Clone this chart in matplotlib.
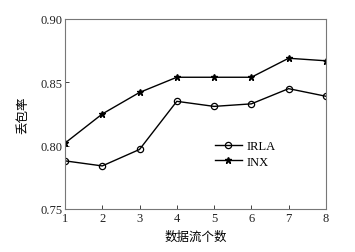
import matplotlib
matplotlib.use("Agg")
import matplotlib.pyplot as plt

x = [1, 2, 3, 4, 5, 6, 7, 8]
irla = [0.788, 0.784, 0.797, 0.835, 0.831, 0.833, 0.845, 0.839]
inx = [0.802, 0.825, 0.842, 0.854, 0.854, 0.854, 0.869, 0.867]
yticks = [0.75, 0.80, 0.85, 0.90]
ytick_labels = ["0.75", "0.80", "0.85", "0.90"]

plt.rcParams['font.family'] = ['Liberation Serif', 'Noto Sans CJK SC']
fig = plt.figure(figsize=(3.55, 2.53), dpi=100)
ax = fig.add_axes([0.183, 0.170, 0.735, 0.751])

ax.plot(x, irla, color='black', lw=1.0, marker='o', ms=4.5, mfc='none', mec='black', mew=0.9, label='IRLA')
ax.plot(x, inx, color='black', lw=1.0, marker='*', ms=5, mfc='black', mec='black', label='INX')

ax.set_xlim(1, 8)
ax.set_ylim(0.75, 0.90)
ax.set_xticks(x)
ax.set_yticks(yticks)
ax.set_yticklabels(ytick_labels)
ax.tick_params(direction='in', length=3, width=0.6, labelsize=9, colors='#222222', pad=2)
for s in ax.spines.values():
    s.set_color('#777777')
    s.set_linewidth(0.8)

ax.set_xlabel('数据流个数', family=['Noto Sans CJK SC'], fontsize=9, labelpad=4)
ax.set_ylabel('丢包率', family=['Noto Sans CJK SC'], fontsize=9, labelpad=8)

ax.legend(loc='center left', bbox_to_anchor=(0.53, 0.29), frameon=False, fontsize=9,
          handlelength=2.2, handletextpad=0.4, labelspacing=0.3)

fig.savefig('out.png', dpi=100)
